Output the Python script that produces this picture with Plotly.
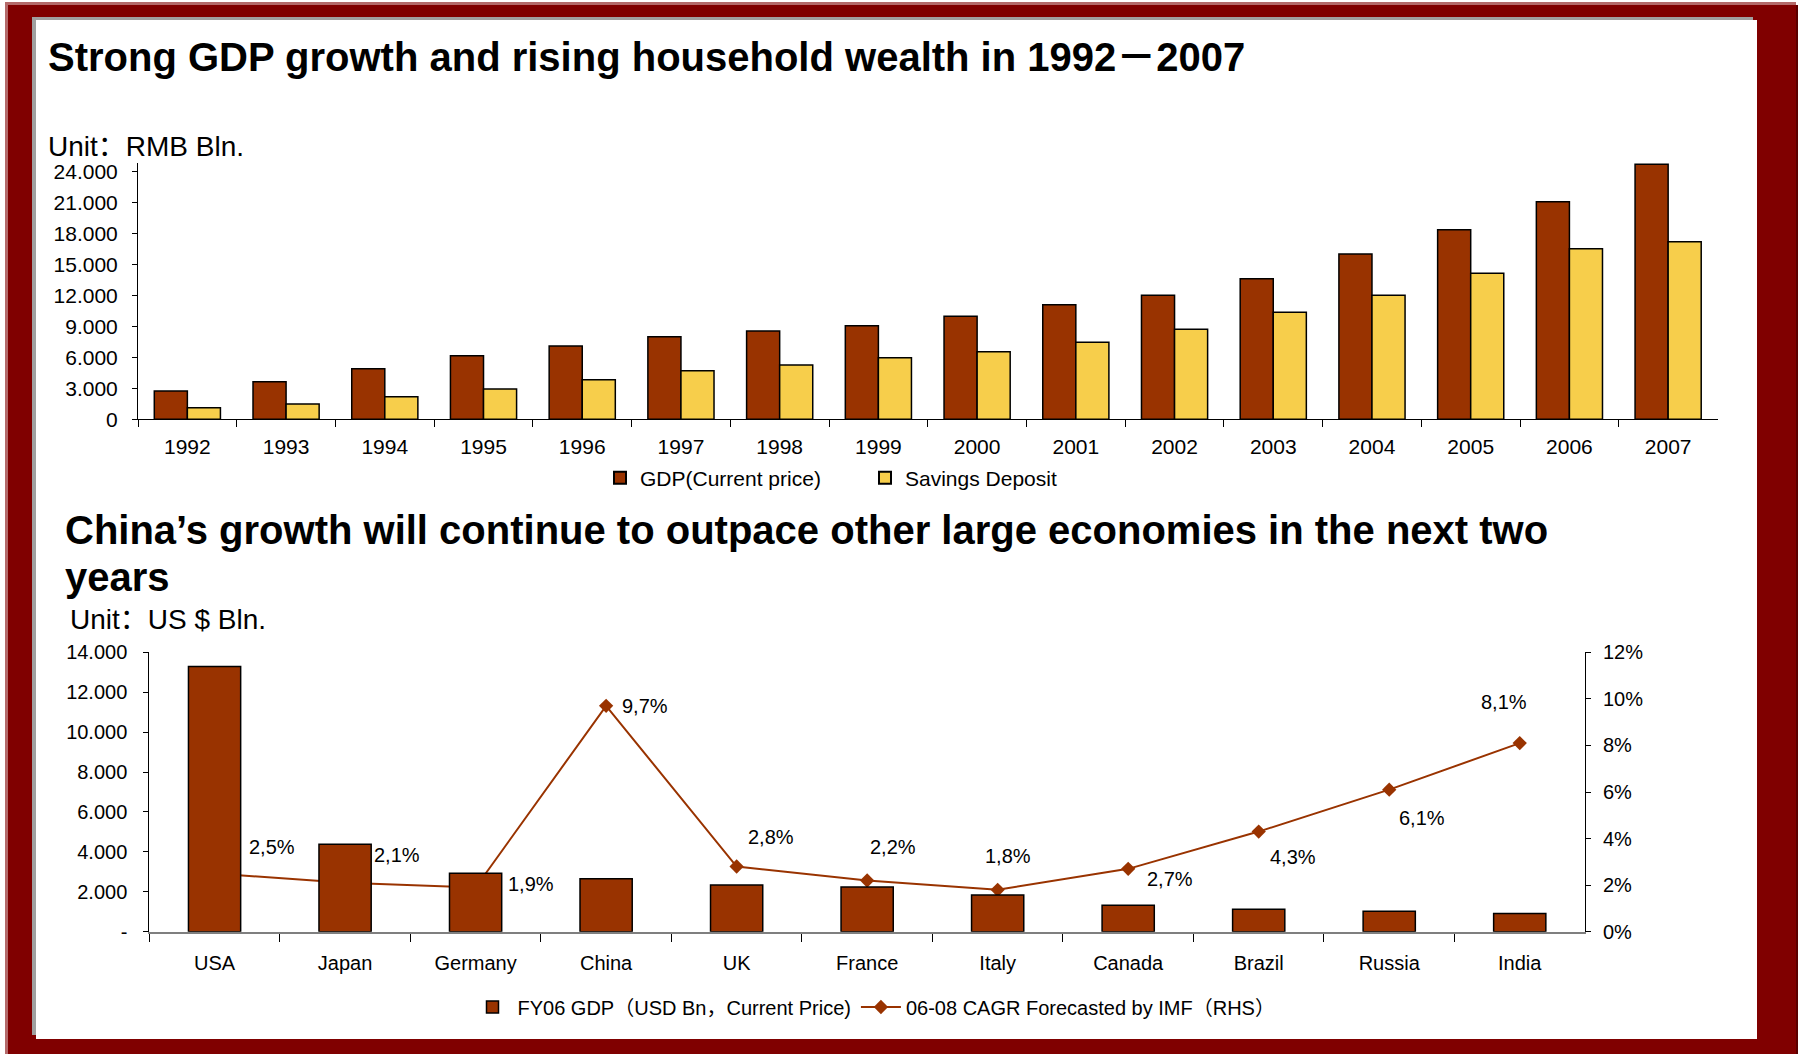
import plotly.graph_objects as go

# ---------------- data ----------------
years = [str(y) for y in range(1992, 2008)]
gdp_rmb = [2740, 3640, 4900, 6160, 7100, 8000, 8560, 9070,
           9980, 11110, 12020, 13630, 16020, 18380, 21090, 24720]
savings_rmb = [1120, 1480, 2190, 2940, 3840, 4710, 5260, 5970,
               6550, 7460, 8720, 10370, 12020, 14150, 16540, 17220]
top_yticks = [0, 3000, 6000, 9000, 12000, 15000, 18000, 21000, 24000]
top_yticktext = ["0", "3.000", "6.000", "9.000", "12.000", "15.000",
                 "18.000", "21.000", "24.000"]

countries = ["USA", "Japan", "Germany", "China", "UK", "France", "Italy",
             "Canada", "Brazil", "Russia", "India"]
gdp_usd = [13290, 4380, 2930, 2650, 2340, 2240, 1840, 1330, 1130, 1030, 910]
cagr = [2.5, 2.1, 1.9, 9.7, 2.8, 2.2, 1.8, 2.7, 4.3, 6.1, 8.1]
bot_yticks = [0, 2000, 4000, 6000, 8000, 10000, 12000, 14000]
bot_yticktext = ["-", "2.000", "4.000", "6.000", "8.000", "10.000",
                 "12.000", "14.000"]
rhs_ticks = [0, 2, 4, 6, 8, 10, 12]
rhs_ticktext = ["0%", "2%", "4%", "6%", "8%", "10%", "12%"]

# label offsets (px) for the CAGR point labels
label_dx = [57, 52, 55, 39, 34, 26, 10, 42, 34, 33, -16]
label_dy = [26, 28, 3, 0, 30, 33, 34, -10, -25, -28, 41]

W, H = 1798, 1054
FONT = "Liberation Sans, Arial, Noto Sans CJK SC, sans-serif"
BROWN = "#993300"
GOLD = "#F7CE4B"


def px(x):
    return x / W


def py(y):
    return 1 - y / H


fig = go.Figure()

# ---------------- top chart ----------------
fig.add_trace(go.Bar(
    x=years, y=gdp_rmb, name="GDP(Current price)",
    marker=dict(color=BROWN, line=dict(color="black", width=1.5)),
    xaxis="x", yaxis="y", legend="legend"))
fig.add_trace(go.Bar(
    x=years, y=savings_rmb, name="Savings Deposit",
    marker=dict(color=GOLD, line=dict(color="black", width=1.5)),
    xaxis="x", yaxis="y", legend="legend"))

# ---------------- bottom chart ----------------
fig.add_trace(go.Scatter(
    x=countries, y=cagr, name="06-08 CAGR Forecasted by IMF（RHS）",
    mode="lines+markers",
    line=dict(color=BROWN, width=2),
    marker=dict(symbol="diamond", size=11, color=BROWN),
    xaxis="x2", yaxis="y3", legend="legend2", legendrank=2))
fig.add_trace(go.Bar(
    x=countries, y=gdp_usd, name="FY06 GDP（USD Bn，Current Price)",
    width=0.4, offset=-0.2,
    marker=dict(color=BROWN, line=dict(color="black", width=1.5)),
    xaxis="x2", yaxis="y4", legend="legend2", legendrank=1))

annotations = [
    dict(text="<b>Strong GDP growth and rising household wealth in 1992－2007</b>",
         x=px(46), y=py(57), xref="paper", yref="paper",
         xanchor="left", yanchor="middle", showarrow=False,
         font=dict(size=40, color="black", family=FONT)),
    dict(text="Unit：RMB Bln.", x=px(46), y=py(146), xref="paper", yref="paper",
         xanchor="left", yanchor="middle", showarrow=False,
         font=dict(size=28, color="black", family=FONT)),
    dict(text="<b>China’s growth will continue to outpace other large economies in the next two</b>",
         x=px(63), y=py(530), xref="paper", yref="paper",
         xanchor="left", yanchor="middle", showarrow=False,
         font=dict(size=40, color="black", family=FONT)),
    dict(text="<b>years</b>",
         x=px(63), y=py(577), xref="paper", yref="paper",
         xanchor="left", yanchor="middle", showarrow=False,
         font=dict(size=40, color="black", family=FONT)),
    dict(text="Unit：US $ Bln.", x=px(68), y=py(619), xref="paper", yref="paper",
         xanchor="left", yanchor="middle", showarrow=False,
         font=dict(size=28, color="black", family=FONT)),
]
for c, v, dx, dy in zip(countries, cagr, label_dx, label_dy):
    annotations.append(dict(
        text=f"{v:.1f}".replace(".", ",") + "%", x=c, y=v,
        xref="x2", yref="y3", showarrow=False, xshift=dx, yshift=dy,
        font=dict(size=20, color="black", family=FONT)))

# frame: dark red border with a grey inner edge around a white panel
shapes = [
    dict(type="rect", xref="paper", yref="paper", x0=px(5), x1=px(1796),
         y0=py(1054), y1=py(2), fillcolor="#B46A6A", line=dict(width=0), layer="below"),
    dict(type="rect", xref="paper", yref="paper", x0=px(8), x1=px(1796),
         y0=py(1054), y1=py(5), fillcolor="#800000", line=dict(width=0), layer="below"),
    dict(type="rect", xref="paper", yref="paper", x0=px(1796), x1=px(1798),
         y0=py(1054), y1=py(5), fillcolor="#5A0000", line=dict(width=0), layer="below"),
    dict(type="rect", xref="paper", yref="paper", x0=px(32), x1=px(1753),
         y0=py(1035), y1=py(17), fillcolor="#A0A0A0", line=dict(width=0), layer="below"),
    dict(type="rect", xref="paper", yref="paper", x0=px(36), x1=px(1757),
         y0=py(1039), y1=py(20), fillcolor="white", line=dict(width=0), layer="below"),
]

axis_common = dict(showgrid=False, zeroline=False, showline=True,
                   linecolor="black", linewidth=1, ticks="outside",
                   tickcolor="black", tickwidth=1, fixedrange=True,
                   automargin=False)

fig.update_layout(
    template="none",
    width=W, height=H, autosize=False,
    margin=dict(l=0, r=0, t=0, b=0, pad=0, autoexpand=False),
    paper_bgcolor="white", plot_bgcolor="rgba(0,0,0,0)",
    font=dict(family=FONT, color="black", size=21),
    barmode="group", bargap=0.33, bargroupgap=0,
    showlegend=True,
    xaxis=dict(axis_common, domain=[px(138), px(1717.5)], anchor="y",
               type="category", range=[-0.5, len(years) - 0.5],
               tickson="boundaries", ticklen=7,
               ticklabelstandoff=8, tickfont=dict(size=21)),
    yaxis=dict(axis_common, domain=[py(419.3), py(163)], anchor="x",
               range=[0, 24000 * (419.3 - 163) / (419.3 - 171.7)],
               tickvals=top_yticks, ticktext=top_yticktext,
               ticklen=5, ticklabelstandoff=10, tickfont=dict(size=21)),
    xaxis2=dict(axis_common, domain=[px(149.3), px(1585)], anchor="y3",
                type="category", range=[-0.5, len(countries) - 0.5],
                tickson="boundaries", ticklen=8,
                linecolor="#7F7F7F", linewidth=2,
                ticklabelstandoff=12, tickfont=dict(size=20)),
    yaxis3=dict(axis_common, domain=[py(931.7), py(652.3)], anchor="x2",
                side="right", range=[0, 12], tickvals=rhs_ticks,
                ticktext=rhs_ticktext, ticklen=5, ticklabelstandoff=8,
                tickfont=dict(size=20)),
    yaxis4=dict(axis_common, overlaying="y3", anchor="x2", side="left",
                range=[0, 14000], tickvals=bot_yticks, ticktext=bot_yticktext,
                ticklen=5, ticklabelstandoff=12, tickfont=dict(size=20)),
    legend=dict(orientation="h", x=px(600), y=py(478), xanchor="left",
                yanchor="middle", bgcolor="rgba(0,0,0,0)",
                font=dict(size=21, family=FONT), itemsizing="constant",
                itemwidth=30, entrywidth=220, entrywidthmode="pixels"),
    legend2=dict(orientation="h", x=px(874), y=py(1007), xanchor="center",
                 yanchor="middle", bgcolor="rgba(0,0,0,0)",
                 font=dict(size=20, family=FONT), itemwidth=40),
    annotations=annotations,
    shapes=shapes,
)

fig.write_html("out.html")
